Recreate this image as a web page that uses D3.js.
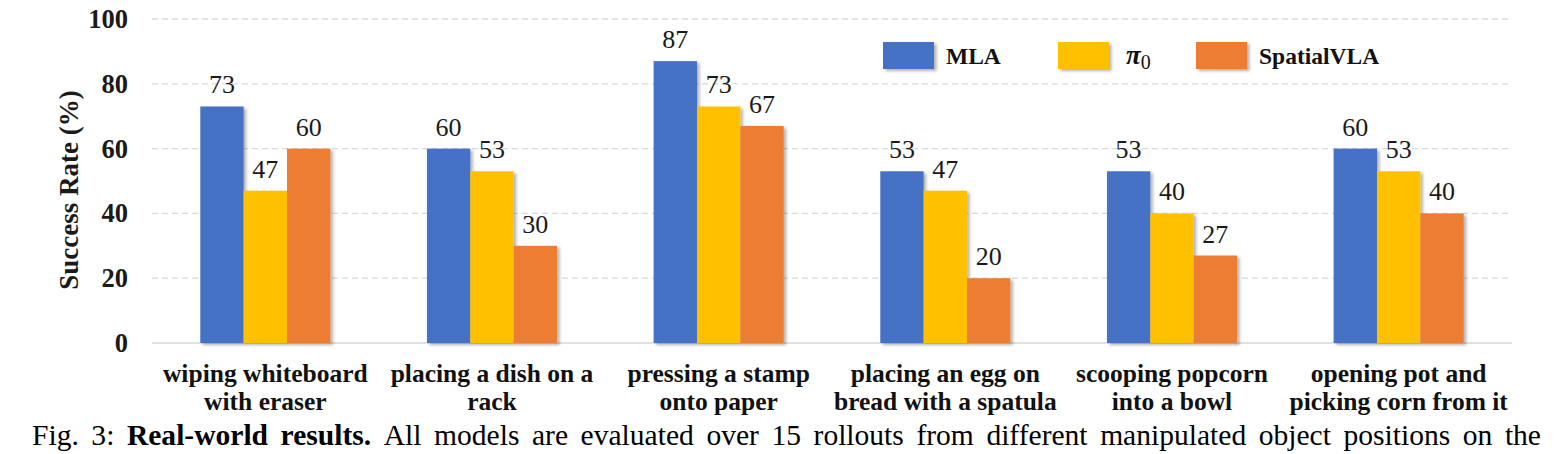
<!DOCTYPE html>
<html>
<head>
<meta charset="utf-8">
<script src="https://cdn.jsdelivr.net/npm/d3@7"></script>
<style>
  html, body { margin: 0; padding: 0; background: #fff; }
  svg { display: block; }
  svg text { font-family: 'Liberation Serif', 'Times New Roman', serif; }
  .b { font-weight: bold; }
</style>
</head>
<body>
<svg id="chart" width="1566" height="454"></svg>
<script>
// ---- data ----
const categories = [
  ["wiping whiteboard", "with eraser"],
  ["placing a dish on a", "rack"],
  ["pressing a stamp", "onto paper"],
  ["placing an egg on", "bread with a spatula"],
  ["scooping popcorn", "into a bowl"],
  ["opening pot and", "picking corn from it"]
];
const seriesNames = ["MLA", "pi0", "SpatialVLA"];
const mlaValues = [73, 60, 87, 53, 53, 60];
const pi0Values = [47, 53, 73, 47, 40, 53];
const spatialValues = [60, 30, 67, 20, 27, 40];
const yTicks = [0, 20, 40, 60, 80, 100];
const colors = ["#4472C4", "#FFC000", "#ED7D31"];
const captionParts = [
  {t: "Fig. 3:", b: false},
  {t: "Real-world results.", b: true},
  {t: "All models are evaluated over 15 rollouts from different manipulated object positions on the", b: false}
];

(function() {
const seriesValues = [mlaValues, pi0Values, spatialValues];

const svg = d3.select("#chart");
const defs = svg.append("defs");
const f = defs.append("filter").attr("id", "shadow")
  .attr("x", "-20%").attr("y", "-20%").attr("width", "150%").attr("height", "150%");
f.append("feDropShadow").attr("dx", 2.5).attr("dy", 2).attr("stdDeviation", 1.8)
  .attr("flood-color", "#000").attr("flood-opacity", 0.3);

const plotL = 152, plotR = 1512, plotT = 19, plotB = 343;
const x = d3.scaleBand().domain(d3.range(categories.length)).range([plotL, plotR])
  .paddingInner(0.426).paddingOuter(0.213);
const xs = d3.scaleBand().domain(d3.range(seriesNames.length)).range([0, x.bandwidth()]);
const y = d3.scaleLinear().domain([0, 100]).range([plotB, plotT]);

// grid
svg.append("g").selectAll("line").data(yTicks.filter(d => d > 0)).join("line")
  .attr("x1", plotL).attr("x2", plotR)
  .attr("y1", d => y(d)).attr("y2", d => y(d))
  .attr("stroke", "#d9d9d9").attr("stroke-width", 1.3).attr("stroke-dasharray", "6,4");
svg.append("line").attr("x1", plotL).attr("x2", plotR).attr("y1", y(0)).attr("y2", y(0))
  .attr("stroke", "#d9d9d9").attr("stroke-width", 1.5);

// y tick labels
svg.append("g").selectAll("text").data(yTicks).join("text")
  .attr("class", "b")
  .attr("x", 128).attr("y", d => y(d) + 9)
  .attr("text-anchor", "end")
  .attr("font-size", 26.5)
  .attr("fill", "#1a1a1a")
  .text(d => d);

// y title
svg.append("text")
  .attr("class", "b")
  .attr("transform", "translate(78,190) rotate(-90)")
  .attr("text-anchor", "middle")
  .attr("font-size", 27)
  .attr("fill", "#1a1a1a")
  .text("Success Rate (%)");

// bars
const groups = svg.append("g").selectAll("g").data(categories).join("g")
  .attr("transform", (d, i) => `translate(${x(i)},0)`);
groups.each(function(d, i) {
  const g = d3.select(this);
  seriesValues.forEach((vals, s) => {
    g.append("rect")
      .attr("x", xs(s)).attr("width", xs.bandwidth())
      .attr("y", y(vals[i])).attr("height", y(0) - y(vals[i]))
      .attr("fill", colors[s]).attr("filter", "url(#shadow)");
  });
  seriesValues.forEach((vals, s) => {
    g.append("text")
      .attr("x", xs(s) + xs.bandwidth() / 2).attr("y", y(vals[i]) - 13)
      .attr("text-anchor", "middle")
      .attr("font-size", 26)
      .attr("fill", "#1a1a1a")
      .text(vals[i]);
  });
});

// x labels
svg.append("g").selectAll("text").data(categories).join("text")
  .attr("class", "b")
  .attr("text-anchor", "middle")
  .attr("font-size", 25.5)
  .attr("fill", "#111")
  .each(function(d, i) {
    const t = d3.select(this);
    const cx = x(i) + x.bandwidth() / 2;
    t.append("tspan").attr("x", cx).attr("y", 382).text(d[0]);
    t.append("tspan").attr("x", cx).attr("y", 410).text(d[1]);
  });

// legend
const legX = [883, 1058, 1196];
const legTextX = [946, 1126, 1259];
const leg = svg.append("g");
seriesNames.forEach((n, s) => {
  leg.append("rect").attr("x", legX[s]).attr("y", 42).attr("width", 51).attr("height", 27)
    .attr("fill", colors[s]).attr("filter", "url(#shadow)");
  const t = leg.append("text").attr("class", "b").attr("x", legTextX[s]).attr("y", 64)
    .attr("font-size", 23.5)
    .attr("fill", "#111");
  if (n === "pi0") {
    t.append("tspan").attr("font-style", "italic").attr("font-size", 27).text("π");
    t.append("tspan").attr("dy", 5).attr("font-size", 20).attr("font-weight", "normal").text("0");
  } else {
    t.text(n);
  }
});

// caption (justified, word gap ~12.5px)
const capY = 445, capL = 32, capR = 1541, targetGap = 12.5;
const words = [];
captionParts.forEach(p => p.t.split(" ").forEach(w => words.push({t: w, b: p.b})));
const cap = svg.append("g");
let fs = 26;
const nodes = words.map(w => cap.append("text").attr("y", capY)
  .attr("class", w.b ? "b" : null)
  .attr("font-size", fs)
  .attr("fill", "#000").text(w.t));
let widths = nodes.map(n => n.node().getComputedTextLength());
const natural = d3.sum(widths);
fs = fs * (capR - capL - targetGap * (words.length - 1)) / natural;
nodes.forEach(n => n.attr("font-size", fs));
widths = nodes.map(n => n.node().getComputedTextLength());
const gap = (capR - capL - d3.sum(widths)) / (words.length - 1);
let cx = capL;
nodes.forEach((n, i) => { n.attr("x", cx); cx += widths[i] + gap; });
})();
</script>
</body>
</html>
